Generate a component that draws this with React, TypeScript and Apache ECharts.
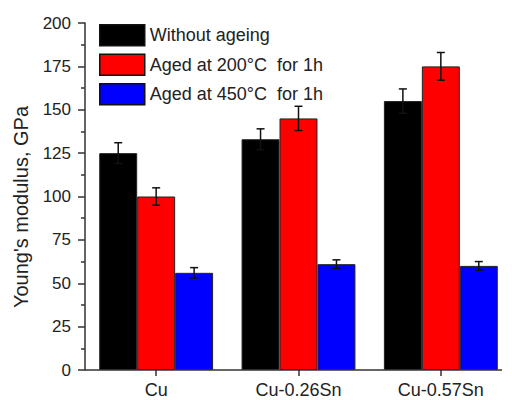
import React, { useEffect, useRef } from "react";
import * as echarts from "echarts";

const categories = ["Cu", "Cu-0.26Sn", "Cu-0.57Sn"];
const seriesNames = ["Without ageing", "Aged at 200°C  for 1h", "Aged at 450°C  for 1h"];
const withoutAgeing = [125, 133, 155];
const aged200 = [100, 145, 175];
const aged450 = [56, 61, 60];
const errWithout = [6, 6, 7];
const err200 = [5, 7, 8];
const err450 = [3, 2.5, 2.5];
const colors = ["#000000", "#ff0000", "#0000ff"];
const yTicks = [0, 25, 50, 75, 100, 125, 150, 175, 200];

const FONT = "Liberation Sans, Arial, sans-serif";

export default function App() {
  const ref = useRef<HTMLDivElement>(null);
  useEffect(() => {
    document.body.style.margin = "0";
    const chart = echarts.init(ref.current!, undefined, { renderer: "svg" });
    const values = [withoutAgeing, aged200, aged450];
    const errs = [errWithout, err200, err450];
    const catGapRatio = 0.2;
    const bars = values.map((vals, i) => ({
      name: seriesNames[i],
      type: "bar",
      data: vals,
      barGap: "0%",
      barCategoryGap: "20%",
      itemStyle: { color: colors[i], borderColor: "#222", borderWidth: 1 },
      z: 2,
    }));
    const errSeries = values.map((vals, i) => ({
      type: "custom",
      name: "err" + i,
      data: vals.map((v, j) => [j, v, errs[i][j]]),
      z: 5,
      silent: true,
      renderItem: (params: any, api: any) => {
        const c = api.value(0);
        const v = api.value(1);
        const e = api.value(2);
        const band = api.size([1, 0])[0];
        const bw = (band * (1 - catGapRatio)) / 3;
        const center = api.coord([c, v]);
        const x = center[0] + (i - 1) * bw;
        const top = api.coord([c, v + e])[1];
        const bot = api.coord([c, v - e])[1];
        const cap = 4;
        const style = { stroke: "#111", lineWidth: 1.5 };
        return {
          type: "group",
          children: [
            { type: "line", shape: { x1: x, y1: top, x2: x, y2: bot }, style },
            { type: "line", shape: { x1: x - cap, y1: top, x2: x + cap, y2: top }, style },
            { type: "line", shape: { x1: x - cap, y1: bot, x2: x + cap, y2: bot }, style },
          ],
        };
      },
    }));
    chart.setOption({
      animation: false,
      grid: { left: 85, top: 23, height: 347, width: 430 },
      legend: {
        data: seriesNames.map((n) => ({ name: n, icon: "rect" })),
        orient: "vertical",
        left: 99,
        top: 24,
        padding: 0,
        itemWidth: 45,
        itemHeight: 21,
        itemGap: 7,
        itemStyle: { borderColor: "#111", borderWidth: 1.5 },
        textStyle: { fontFamily: FONT, fontSize: 18, color: "#222" },
      },
      xAxis: {
        type: "category",
        data: categories,
        axisLine: { show: false },
        axisTick: { show: true, alignWithLabel: true, length: 6, lineStyle: { color: "#333", width: 1.5 } },
        axisLabel: { fontFamily: FONT, fontSize: 18, color: "#222", margin: 11 },
      },
      yAxis: {
        type: "value",
        min: 0,
        max: 200,
        interval: 25,
        axisLine: { show: true, lineStyle: { color: "#333", width: 1.5 } },
        axisTick: { show: true, length: 7, lineStyle: { color: "#333", width: 1.5 } },
        minorTick: { show: true, splitNumber: 2, length: 4, lineStyle: { color: "#333", width: 1.5 } },
        splitLine: { show: false },
        axisLabel: {
          fontFamily: FONT,
          fontSize: 17,
          color: "#222",
          margin: 14,
          formatter: (v: number) => (yTicks.includes(v) ? String(v) : ""),
        },
      },
      graphic: [
        {
          type: "line",
          shape: { x1: 85, y1: 370, x2: 502, y2: 370 },
          style: { stroke: "#333", lineWidth: 1.5 },
          z: 10,
        },
        {
          type: "text",
          x: 21,
          y: 207,
          rotation: Math.PI / 2,
          style: {
            text: "Young's modulus, GPa",
            font: `20px ${FONT}`,
            fill: "#222",
            align: "center",
            verticalAlign: "middle",
          },
        },
      ],
      series: [...bars, ...errSeries],
    });
    return () => chart.dispose();
  }, []);
  return <div ref={ref} style={{ width: 512, height: 400 }} />;
}
